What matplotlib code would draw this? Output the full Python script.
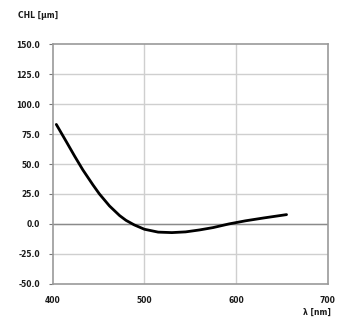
import matplotlib
matplotlib.use("Agg")
import matplotlib.pyplot as plt

# Data
wavelength_nm = [404, 415, 424, 433, 444, 451, 462, 473, 480, 489, 500,
                 515, 530, 545, 560, 575, 592, 610, 630, 655]
chl_um = [83.0, 68.5, 56.5, 45.0, 32.5, 25.0, 15.0, 7.0, 3.0, -0.8, -4.4,
          -6.8, -7.2, -6.6, -5.0, -3.0, 0.0, 2.6, 5.0, 7.8]

y_ticks = [-50, -25, 0, 25, 50, 75, 100, 125, 150]
x_ticks = [400, 500, 600, 700]

fig = plt.figure(figsize=(3.51, 3.29), dpi=100)
ax = fig.add_axes([0.150, 0.137, 0.784, 0.729])

ax.set_xlim(400, 700)
ax.set_ylim(-50, 150)
ax.set_xticks(x_ticks)
ax.set_yticks(y_ticks)
ax.set_yticklabels([f"{v:.1f}" for v in y_ticks])
ax.set_xticklabels([str(v) for v in x_ticks])

for v in y_ticks[1:-1]:
    ax.axhline(v, color="#cfcfcf", lw=1.0, zorder=0)
for v in x_ticks[1:-1]:
    ax.axvline(v, color="#cfcfcf", lw=1.0, zorder=0)
ax.axhline(0, color="#8a8a8a", lw=1.0, zorder=1)

ax.plot(wavelength_nm, chl_um, color="black", lw=2.0, zorder=3,
        solid_joinstyle="round", solid_capstyle="round")

for s in ax.spines.values():
    s.set_color("#9a9a9a")
    s.set_linewidth(1.2)

ax.tick_params(axis="y", length=3, width=0.8, color="#777777", pad=6,
               labelsize=5.5)
ax.tick_params(axis="x", length=0, pad=9, labelsize=5.5)
for lbl in ax.get_xticklabels() + ax.get_yticklabels():
    lbl.set_fontweight("bold")
    lbl.set_color("#1a1a1a")

fig.text(18 / 351, 1 - 15 / 329, "CHL [µm]", fontsize=5.5, fontweight="bold",
         color="#1a1a1a", ha="left", va="center")
fig.text(331 / 351, 1 - 312 / 329, "λ [nm]", fontsize=5.5, fontweight="bold",
         color="#1a1a1a", ha="right", va="center")

fig.savefig("out.png", dpi=100)
